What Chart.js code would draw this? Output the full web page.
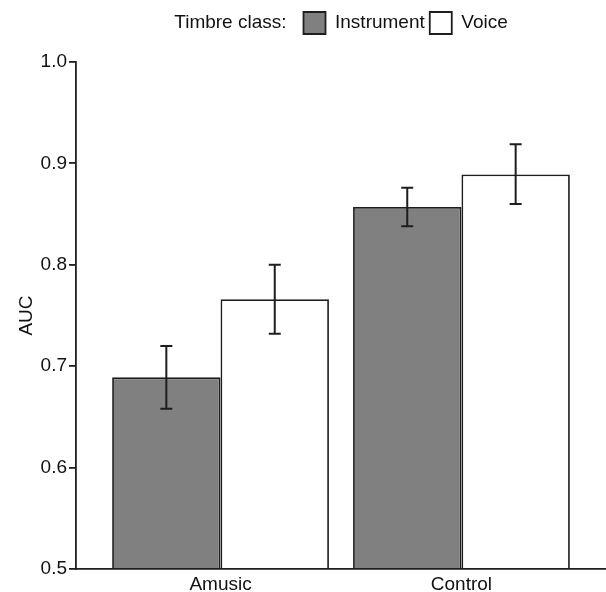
<!DOCTYPE html>
<html>
<head>
<meta charset="utf-8">
<script src="https://cdn.jsdelivr.net/npm/chart.js@4.4.1/dist/chart.umd.min.js"></script>
<style>
  html, body { margin: 0; padding: 0; background: #ffffff; }
  #wrap { width: 606px; height: 592px; }
</style>
</head>
<body>
<div id="wrap"><canvas id="c" width="606" height="592"></canvas></div>
<script>
// ---- data ----
const categories = ['Amusic', 'Control'];
const seriesNames = ['Instrument', 'Voice'];
const instrumentAUC = [0.689, 0.857];
const voiceAUC = [0.766, 0.889];
const instrumentLow = [0.658, 0.838];
const instrumentHigh = [0.720, 0.876];
const voiceLow = [0.732, 0.860];
const voiceHigh = [0.800, 0.919];
const legendTitle = 'Timbre class:';
const yAxisTitle = 'AUC';
const yMin = 0.5, yMax = 1.0, yStep = 0.1;

// ---- style ----
const FONT = "'Liberation Sans', Arial, Helvetica, sans-serif";
const TEXT = '#111111';
const LINE = '#1e1e1e';
Chart.defaults.font.family = FONT;
Chart.defaults.font.size = 19;
Chart.defaults.color = TEXT;

const errLow = [instrumentLow, voiceLow];
const errHigh = [instrumentHigh, voiceHigh];

const toPoints = arr => arr.map((v, i) => ({ x: i + 1, y: v }));

// spacer box between legend and plot
const gapBelowLegend = {
  id: 'gapBelowLegend',
  beforeInit(chart) {
    Chart.layouts.addBox(chart, {
      position: 'top', weight: 500, fullSize: false, options: {},
      left: 0, top: 0, right: 0, bottom: 0, width: 0, height: 0,
      isHorizontal() { return true; },
      update(maxWidth) { this.width = maxWidth; this.height = 18; },
      draw() {}
    });
  }
};

// legend with leading "Timbre class:" label, block centred over the panel
const LEGEND_GAP = 17;
const legendLabel = {
  id: 'legendLabel',
  afterLayout(chart) {
    const lg = chart.legend;
    if (!lg || !lg.lineWidths) return;
    const ctx = chart.ctx;
    ctx.save();
    ctx.font = '19px ' + FONT;
    const tw = ctx.measureText(legendTitle).width;
    ctx.restore();
    const p = lg.options.labels.padding;
    const lineW = lg.lineWidths[0];
    const current = (lg.left + p + lg.right - lineW) / 2;
    const C = (chart.chartArea.left + chart.chartArea.right) / 2;
    const block = tw + LEGEND_GAP + (lineW - p);
    const desired = C - block / 2 + tw + LEGEND_GAP;
    const shift = desired - current;
    lg.left += shift;
    lg.right += shift;
    lg._itemsLeft = desired;
  },
  afterDraw(chart) {
    const lg = chart.legend;
    if (!lg || lg._itemsLeft === undefined) return;
    const ctx = chart.ctx;
    const p = lg.options.labels.padding;
    const ih = Math.max(19, lg.options.labels.boxHeight);
    ctx.save();
    ctx.font = '19px ' + FONT;
    ctx.fillStyle = TEXT;
    ctx.textAlign = 'right';
    ctx.textBaseline = 'middle';
    ctx.fillText(legendTitle, lg._itemsLeft - LEGEND_GAP, lg.top + p + ih / 2);
    ctx.restore();
  }
};

// error bars
const errorBars = {
  id: 'errorBars',
  afterDatasetsDraw(chart) {
    const ctx = chart.ctx;
    const ys = chart.scales.y;
    ctx.save();
    ctx.strokeStyle = LINE;
    ctx.lineWidth = 2;
    chart.data.datasets.forEach((ds, i) => {
      const meta = chart.getDatasetMeta(i);
      meta.data.forEach((bar, j) => {
        const x = bar.x;
        const yl = ys.getPixelForValue(errLow[i][j]);
        const yh = ys.getPixelForValue(errHigh[i][j]);
        const cap = 6;
        ctx.beginPath();
        ctx.moveTo(x, yl); ctx.lineTo(x, yh);
        ctx.moveTo(x - cap, yl); ctx.lineTo(x + cap, yl);
        ctx.moveTo(x - cap, yh); ctx.lineTo(x + cap, yh);
        ctx.stroke();
      });
    });
    ctx.restore();
  }
};

new Chart(document.getElementById('c'), {
  type: 'bar',
  data: {
    datasets: [
      { label: seriesNames[0], data: toPoints(instrumentAUC), backgroundColor: '#808080',
        borderColor: LINE, borderWidth: 1.8, base: yMin },
      { label: seriesNames[1], data: toPoints(voiceAUC), backgroundColor: '#ffffff',
        borderColor: LINE, borderWidth: 1.8, base: yMin }
    ]
  },
  options: {
    responsive: false,
    animation: false,
    categoryPercentage: 0.9,
    barPercentage: 1.0,
    layout: { padding: { left: 0, right: 0, top: 7, bottom: 0 } },
    plugins: {
      legend: {
        display: true, position: 'top', align: 'center', fullSize: false,
        labels: { boxWidth: 22, boxHeight: 22, padding: 5, color: TEXT, font: { size: 19 } }
      },
      tooltip: { enabled: false }
    },
    scales: {
      x: {
        type: 'linear', min: 0.4, max: 2.6, offset: false,
        afterBuildTicks(scale) { scale.ticks = categories.map((c, i) => ({ value: i + 1 })); },
        ticks: {
          autoSkip: false, maxRotation: 0, padding: 4, color: TEXT, font: { size: 19 },
          callback: (v) => categories[v - 1] !== undefined ? categories[v - 1] : ''
        },
        grid: { display: false, drawTicks: false },
        border: { display: true, color: LINE, width: 1.8 },
        afterFit(scale) { scale.height = 23; }
      },
      y: {
        min: yMin, max: yMax,
        ticks: { stepSize: yStep, padding: 2, color: TEXT, font: { size: 19 },
          callback: (v) => Number(v).toFixed(1) },
        grid: { display: true, drawOnChartArea: false, drawTicks: true, tickLength: 7,
          tickColor: LINE, lineWidth: 1.8 },
        border: { display: true, color: LINE, width: 1.8 },
        title: { display: true, text: yAxisTitle, color: TEXT, font: { size: 19 },
          padding: { top: 15, bottom: 0 } },
        afterFit(scale) { scale.width = 76; }
      }
    }
  },
  plugins: [gapBelowLegend, legendLabel, errorBars]
});
</script>
</body>
</html>
